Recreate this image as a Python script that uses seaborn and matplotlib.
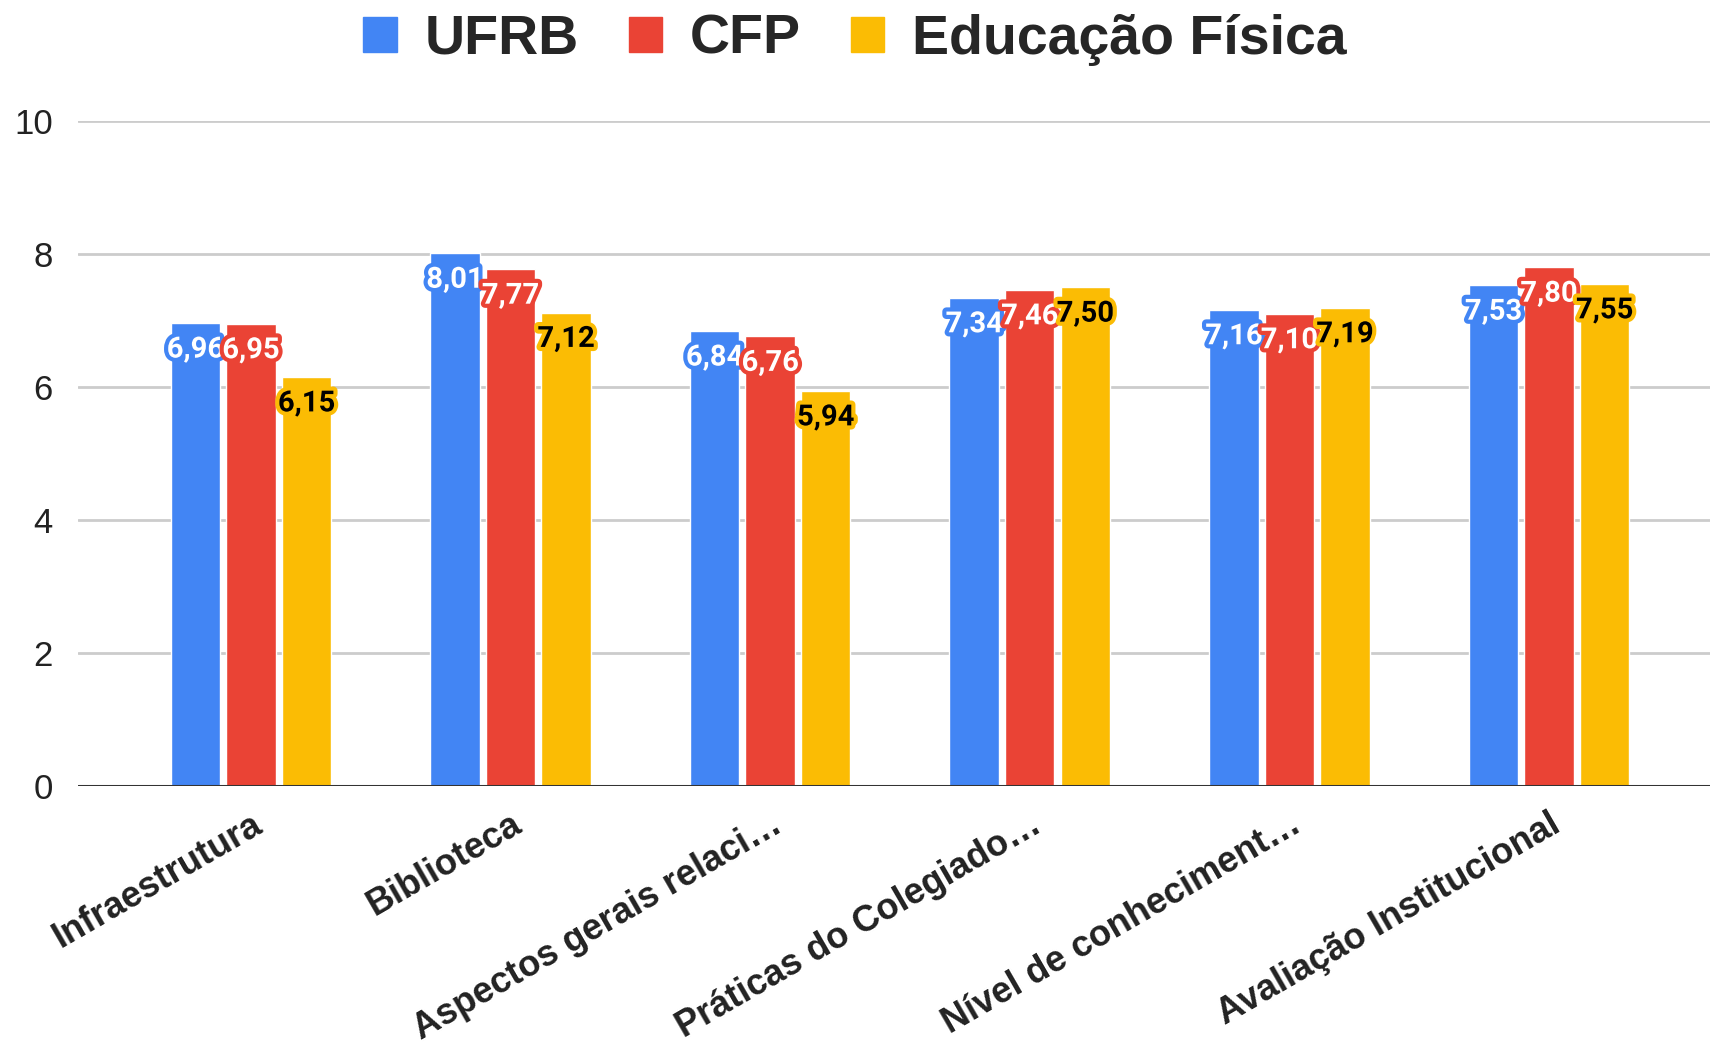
import pandas as pd
import seaborn as sns
import matplotlib.pyplot as plt
import matplotlib.patheffects as pe
from matplotlib.patches import FancyBboxPatch

categorias = ['Infraestrutura', 'Biblioteca', 'Aspectos gerais relaci…',
              'Práticas do Colegiado…', 'Nível de conheciment…', 'Avaliação Institucional']
series = ['UFRB', 'CFP', 'Educação Física']
ufrb = [6.96, 8.01, 6.84, 7.34, 7.16, 7.53]
cfp = [6.95, 7.77, 6.76, 7.46, 7.10, 7.80]
educacao_fisica = [6.15, 7.12, 5.94, 7.50, 7.19, 7.55]
cores = ['#4285F4', '#EA4335', '#FBBC04']
cor_texto = ['white', 'white', 'black']

df = pd.DataFrame({
    'categoria': categorias * 3,
    'serie': [series[0]] * 6 + [series[1]] * 6 + [series[2]] * 6,
    'valor': ufrb + cfp + educacao_fisica,
})

sns.set_style('white')
plt.rcParams['font.family'] = ['Liberation Sans', 'DejaVu Sans']

fig = plt.figure(figsize=(17.1, 10.46), dpi=100)
ax = fig.add_axes([0.0456, 0.2486, 0.9544, 0.6357])

sns.barplot(data=df, x='categoria', y='valor', hue='serie', order=categorias,
            hue_order=series, palette=cores, width=0.642, gap=0.11,
            saturation=1, legend=False, ax=ax)

ax.set_ylim(0, 10)
ax.set_xlim(-0.666, 5.62)
ax.set_yticks([0, 2, 4, 6, 8, 10])
ax.yaxis.grid(True, color='#cccccc', linewidth=2)
ax.set_axisbelow(True)
ax.axhline(0, color='#333333', linewidth=2.2, zorder=5)
for s in ax.spines.values():
    s.set_visible(False)
ax.set_xlabel('')
ax.set_ylabel('')
ax.tick_params(axis='y', length=0, pad=18, labelsize=25, labelcolor='#222222')
ax.tick_params(axis='x', length=0, pad=15)
ax.set_xticks(range(len(categorias)))
ax.set_xticklabels(categorias, rotation=30, ha='right', va='top',
                   rotation_mode='anchor', fontsize=26, fontweight='bold', color='#222222')

# rótulos de dados
for i, cont in enumerate(ax.containers):
    for bar, v in zip(cont, [ufrb, cfp, educacao_fisica][i]):
        x = bar.get_x() + bar.get_width() / 2
        ax.annotate(f'{v:.2f}'.replace('.', ','), (x, bar.get_height()),
                    xytext=(0, -19), textcoords='offset points', ha='center', va='center',
                    fontsize=21, fontweight='bold', color=cor_texto[i], zorder=6,
                    family=['Roboto', 'DejaVu Sans'],
                    path_effects=[pe.withStroke(linewidth=6, foreground=cores[i])])

handles = [FancyBboxPatch((0, 0), 1, 1, boxstyle='round,pad=0', facecolor=c, edgecolor=c)
           for c in cores]
fig.legend(handles, series, loc='center', bbox_to_anchor=(0.5, 0.962), ncol=3,
           frameon=False, prop={'size': 40, 'weight': 'bold'},
           handlelength=0.6, handleheight=0.6, handletextpad=0.5, columnspacing=0.9)

fig.savefig('out.png', dpi=100)
